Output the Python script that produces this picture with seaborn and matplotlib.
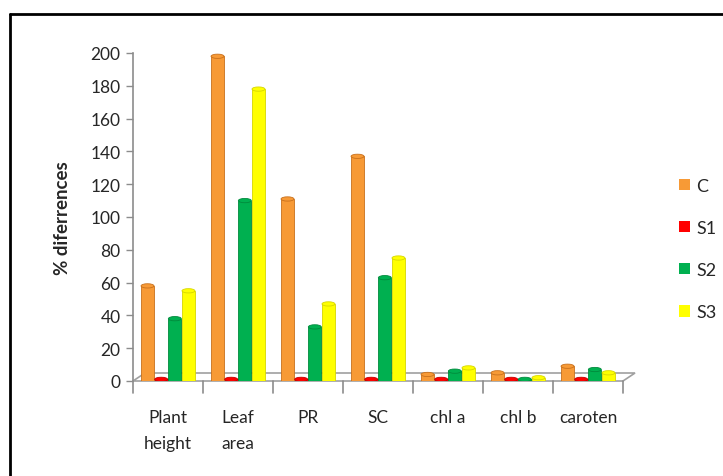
import matplotlib
matplotlib.use("Agg")
import matplotlib.pyplot as plt
from matplotlib.patches import Ellipse, Polygon
from matplotlib.lines import Line2D
import seaborn as sns
import pandas as pd

# data
categories = ["Plant\nheight", "Leaf\narea", "PR", "SC", "chl a", "chl b", "caroten"]
series = ["C", "S1", "S2", "S3"]
c_vals = [58, 198, 111, 137, 4, 5, 9]
s1_vals = [1, 1, 1, 1, 1, 1, 1]
s2_vals = [38, 110, 33, 63, 6, 1, 7]
s3_vals = [55, 178, 47, 75, 8, 2, 5]
colors = ["#F79A36", "#FF0000", "#00B050", "#FFFF00"]
edges = ["#C8701C", "#C00000", "#008A3C", "#D6D600"]

sns.set_style("white")
plt.rcParams["font.family"] = ["Lato", "DejaVu Sans"]

rows = []
for s, vals in zip(series, [c_vals, s1_vals, s2_vals, s3_vals]):
    for cat, v in zip(categories, vals):
        rows.append({"cat": cat, "series": s, "value": v})
df = pd.DataFrame(rows)

fig = plt.figure(figsize=(7.23, 4.77), dpi=100)
ax = fig.add_axes([133 / 723, 95 / 477, 490 / 723, 328 / 477])

sns.barplot(data=df, x="cat", y="value", hue="series", order=categories,
            hue_order=series, palette=colors, width=0.78, gap=0.05,
            saturation=1, ax=ax, legend=False)

# cylinder look: darker edges and elliptic caps on each bar
for i, s in enumerate(series):
    cont = ax.containers[i]
    for p in cont.patches:
        p.set_edgecolor(edges[i])
        p.set_linewidth(0.6)
        p.set_zorder(3)
        x0 = p.get_x() + p.get_width() / 2
        top = p.get_height()
        cap = Ellipse((x0, top), p.get_width(), 2.6, facecolor=colors[i],
                      edgecolor=edges[i], linewidth=0.6, zorder=4)
        ax.add_patch(cap)

ax.set_xlim(-0.5, len(categories) - 0.5)
ax.set_ylim(0, 200)
ax.set_yticks(range(0, 201, 20))
ax.set_xlabel("")
ax.set_ylabel("% diferrences", fontsize=13.5, fontweight="bold", labelpad=14)

for side in ["top", "right", "bottom"]:
    ax.spines[side].set_visible(False)
ax.spines["left"].set_color("#8C8C8C")
ax.spines["left"].set_linewidth(1.2)

ax.tick_params(axis="y", direction="out", length=5, width=1, color="#8C8C8C",
               labelsize=12.5, pad=4, left=True)
ax.tick_params(axis="x", length=0, labelsize=12.5, pad=20)
for lab in ax.get_xticklabels():
    lab.set_linespacing(1.75)

# floor of the 3D plot
tr = ax.transAxes
dx, dy = 12 / 490, 8 / 328
floor = Polygon([(0, 0), (1, 0), (1 + dx, dy), (dx, dy)], closed=True,
                transform=tr, facecolor="white", edgecolor="#A0A0A0",
                linewidth=1.2, clip_on=False, zorder=1)
ax.add_patch(floor)
ax.add_line(Line2D([0, 0], [0, -12 / 328], transform=tr, color="#8C8C8C",
                   linewidth=1.2, clip_on=False))
for k in range(1, len(categories) + 1):
    xb = k / len(categories)
    ax.add_line(Line2D([xb, xb], [0, -12 / 328], transform=tr, color="#8C8C8C",
                       linewidth=1.2, clip_on=False))

# legend
handles = [plt.Rectangle((0, 0), 1, 1, facecolor=c, edgecolor="none") for c in colors]
fig.legend(handles, series, loc="center left", bbox_to_anchor=(663 / 723, 1 - 250 / 477),
           frameon=False, fontsize=13, handlelength=0.6, handleheight=0.6,
           handletextpad=0.35, labelspacing=1.45)

# outer frame (left and top edges visible)
fig.add_artist(Line2D([10 / 723, 10 / 723], [0, 1 - 15 / 477], color="black",
                      linewidth=2, transform=fig.transFigure))
fig.add_artist(Line2D([10 / 723, 1], [1 - 15 / 477, 1 - 15 / 477], color="black",
                      linewidth=2, transform=fig.transFigure))

fig.savefig("out.png", dpi=100)
